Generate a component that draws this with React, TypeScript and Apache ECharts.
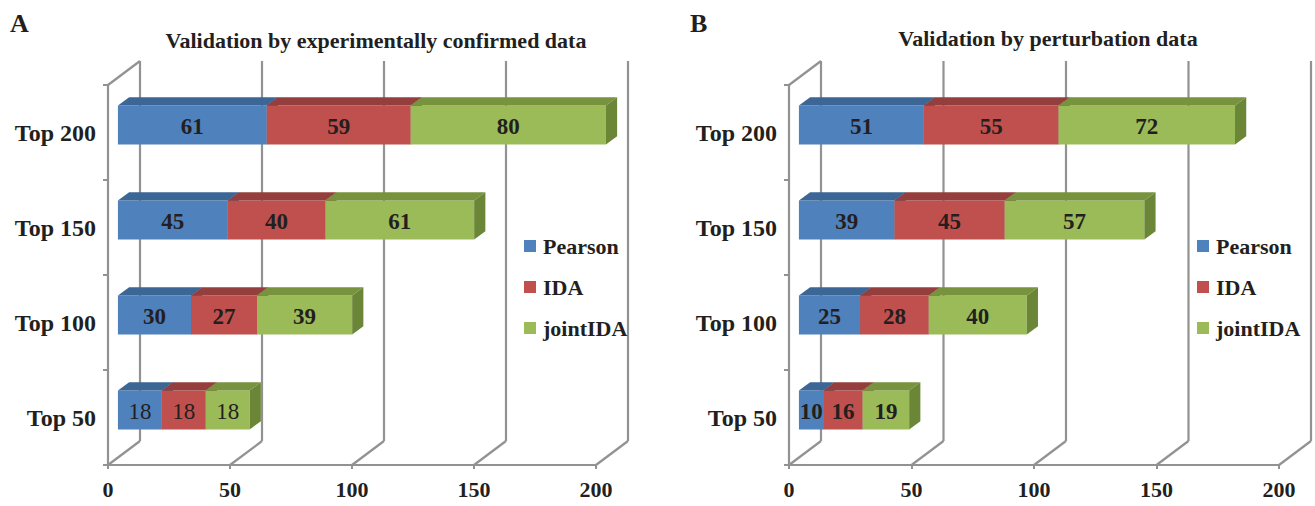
import React, { useEffect, useRef } from 'react';
import * as echarts from 'echarts';

const categories = ['Top 50', 'Top 100', 'Top 150', 'Top 200'];
const seriesNames = ['Pearson', 'IDA', 'jointIDA'];
const pearsonA = [18, 30, 45, 61];
const idaA = [18, 27, 40, 59];
const jointIdaA = [18, 39, 61, 80];
const pearsonB = [10, 25, 39, 51];
const idaB = [16, 28, 45, 55];
const jointIdaB = [19, 40, 57, 72];
const xTicks = [0, 50, 100, 150, 200];
const titleA = 'Validation by experimentally confirmed data';
const titleB = 'Validation by perturbation data';

const FRONT = ['#4f81bd', '#c0504d', '#9bbb59'];
const TOP = ['#3b6695', '#943f3d', '#77933e'];
const SIDE = ['#36608f', '#8a3a38', '#6a8636'];
const GRID = '#929292';
const TEXT = '#231f20';
const FONT = '"Liberation Serif", "Times New Roman", serif';

const DX = 32;
const DY = 24;
const Z0 = 0.31;
const Z1 = 0.66;
const BAR_H = 39;

function stack(lists: number[][]) {
  const out: number[][][] = lists.map(() => []);
  categories.forEach((_, ci) => {
    let acc = 0;
    lists.forEach((l, si) => {
      out[si].push([acc, acc + l[ci], ci, l[ci]]);
      acc += l[ci];
    });
  });
  return out;
}

function barRenderer(si: number, panel: number) {
  return (params: any, api: any) => {
    const start = api.value(0);
    const end = api.value(1);
    const cat = api.value(2);
    const val = api.value(3);
    const p0 = api.coord([start, cat]);
    const p1 = api.coord([end, cat]);
    const ox = DX * Z0;
    const oy = -DY * Z0;
    const dx = DX * (Z1 - Z0);
    const dy = -DY * (Z1 - Z0);
    const x0 = p0[0] + ox;
    const x1 = p1[0] + ox;
    const yT = p0[1] - BAR_H / 2 + oy;
    const yB = p0[1] + BAR_H / 2 + oy;
    const weight = panel === 0 && cat === 0 ? 'normal' : 'bold';
    return {
      type: 'group',
      children: [
        { type: 'rect', shape: { x: x0, y: yT, width: x1 - x0, height: BAR_H }, style: { fill: FRONT[si] } },
        { type: 'polygon', shape: { points: [[x0, yT], [x0 + dx, yT + dy], [x1 + dx, yT + dy], [x1, yT]] }, style: { fill: TOP[si] } },
        { type: 'polygon', shape: { points: [[x1, yT], [x1 + dx, yT + dy], [x1 + dx, yB + dy], [x1, yB]] }, style: { fill: SIDE[si] } },
        {
          type: 'text',
          style: {
            text: String(val), x: (x0 + x1) / 2, y: (yT + yB) / 2 + 1, align: 'center', verticalAlign: 'middle',
            font: `${weight} 23px ${FONT}`, fill: TEXT,
          },
        },
      ],
    };
  };
}

function wallRenderer(params: any, api: any) {
  const v = api.value(0);
  const cs = params.coordSys;
  const p = api.coord([v, 0]);
  const x = p[0];
  const yF = cs.y + cs.height;
  const yTop = cs.y;
  const ls = { stroke: GRID, lineWidth: 2.2 };
  const children: any[] = [
    { type: 'line', shape: { x1: x, y1: yF, x2: x + DX, y2: yF - DY }, style: ls },
    { type: 'line', shape: { x1: x + DX, y1: yF - DY, x2: x + DX, y2: yTop - DY }, style: ls },
  ];
  if (v === xTicks[0]) {
    children.push({ type: 'line', shape: { x1: x, y1: yTop, x2: x + DX, y2: yTop - DY }, style: ls });
  }
  return { type: 'group', children };
}

export default function App() {
  const ref = useRef<HTMLDivElement>(null);
  useEffect(() => {
    if (!ref.current) return;
    const chart = echarts.init(ref.current, null, { renderer: 'svg' });
    const stA = stack([pearsonA, idaA, jointIdaA]);
    const stB = stack([pearsonB, idaB, jointIdaB]);
    const grids = [
      { left: 108, top: 85, width: 488, height: 380 },
      { left: 789, top: 85, width: 490, height: 380 },
    ];
    const xAxis = grids.map((_, i) => ({
      type: 'value', gridIndex: i, min: 0, max: 200, interval: 50,
      axisLine: { show: true, lineStyle: { color: GRID, width: 2.2 } },
      axisTick: { show: true, length: 4, lineStyle: { color: GRID, width: 2 } },
      axisLabel: { margin: 13, fontSize: 22, fontWeight: 'bold', fontFamily: FONT, color: TEXT },
      splitLine: { show: false },
    }));
    const yAxis = grids.map((_, i) => ({
      type: 'category', gridIndex: i, data: categories,
      axisLine: { show: true, lineStyle: { color: GRID, width: 2.2 } },
      axisTick: { show: true, length: 5, lineStyle: { color: GRID, width: 2 } },
      axisLabel: { margin: 12, fontSize: 24, fontWeight: 'bold', fontFamily: FONT, color: TEXT },
      splitLine: { show: false },
    }));
    const series: any[] = [];
    [0, 1].forEach((gi) => {
      series.push({
        type: 'custom', name: 'walls' + gi, xAxisIndex: gi, yAxisIndex: gi, z: 1,
        renderItem: wallRenderer, data: xTicks.map((v) => [v, 0]), silent: true,
      });
    });
    [stA, stB].forEach((st, gi) => {
      st.forEach((data, si) => {
        series.push({
          type: 'custom', name: seriesNames[si], xAxisIndex: gi, yAxisIndex: gi, z: 3,
          itemStyle: { color: FRONT[si] },
          renderItem: barRenderer(si, gi), data,
        });
      });
    });
    const legendBase = {
      orient: 'vertical', top: 235, padding: 0, itemWidth: 12, itemHeight: 12, itemGap: 19, icon: 'rect',
      data: seriesNames,
      textStyle: { fontSize: 22, fontWeight: 'bold', fontFamily: FONT, color: TEXT, padding: [0, 0, 0, 2] },
    };
    chart.setOption({
      animation: false,
      backgroundColor: '#ffffff',
      grid: grids,
      xAxis, yAxis, series,
      legend: [
        { ...legendBase, left: 524 },
        { ...legendBase, left: 1197 },
      ],
      graphic: [
        { type: 'text', x: 10, y: 10, style: { text: 'A', font: `bold 26px ${FONT}`, fill: TEXT } },
        { type: 'text', x: 690, y: 10, style: { text: 'B', font: `bold 26px ${FONT}`, fill: TEXT } },
        { type: 'text', x: 376, y: 40, style: { text: titleA, align: 'center', verticalAlign: 'middle', font: `bold 22px ${FONT}`, fill: TEXT } },
        { type: 'text', x: 1048, y: 38, style: { text: titleB, align: 'center', verticalAlign: 'middle', font: `bold 22px ${FONT}`, fill: TEXT } },
      ],
    });
    return () => chart.dispose();
  }, []);
  return <div ref={ref} style={{ position: 'fixed', left: 0, top: 0, width: 1315, height: 506 }} />;
}
